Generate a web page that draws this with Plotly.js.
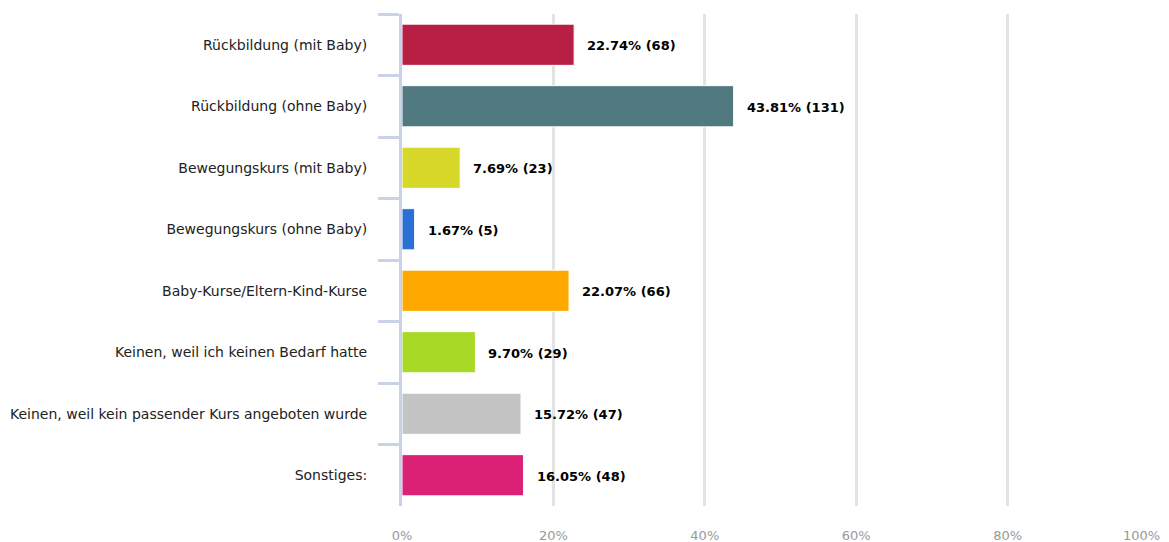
<!DOCTYPE html>
<html>
<head>
<meta charset="utf-8">
<script src="https://cdn.plot.ly/plotly-3.0.1.min.js"></script>
<style>html,body{margin:0;padding:0;background:#fff;}#chart{width:1169px;height:542px;}</style>
</head>
<body>
<div id="chart"></div>
<script>
const categories = [
  "Rückbildung (mit Baby)",
  "Rückbildung (ohne Baby)",
  "Bewegungskurs (mit Baby)",
  "Bewegungskurs (ohne Baby)",
  "Baby-Kurse/Eltern-Kind-Kurse",
  "Keinen, weil ich keinen Bedarf hatte",
  "Keinen, weil kein passender Kurs angeboten wurde",
  "Sonstiges:"
];
const percents = [22.74, 43.81, 7.69, 1.67, 22.07, 9.70, 15.72, 16.05];
const counts = [68, 131, 23, 5, 66, 29, 47, 48];
const colors = ["#b81f44", "#507a80", "#d8d82a", "#2a6fd6", "#ffa800", "#a8d926", "#c4c4c4", "#db2175"];
const xTickVals = [0, 20, 40, 60, 80, 100];
const xTickText = ["0%", "20%", "40%", "60%", "80%", ""];
const lastTickLabel = "100%";

const labels = percents.map((p, i) => p.toFixed(2) + "% (" + counts[i] + ")");

const trace = {
  type: "bar",
  orientation: "h",
  y: categories,
  x: percents,
  marker: { color: colors, line: { color: "#ffffff", width: 1 } },
  width: 0.67,
  hoverinfo: "none"
};

const annotations = categories.map((c, i) => ({
  x: percents[i], y: c, xref: "x", yref: "y",
  text: labels[i], showarrow: false, xanchor: "left", xshift: 11, yshift: -1,
  font: { family: "DejaVu Sans", size: 13, color: "#000", weight: "bold" }
}));
annotations.push({
  x: xTickVals[xTickVals.length - 1], y: 0, xref: "x", yref: "paper",
  text: lastTickLabel, showarrow: false, xanchor: "right", yanchor: "top",
  xshift: 3, yshift: -20,
  font: { family: "DejaVu Sans", size: 13, color: "#999" }
});

const layout = {
  width: 1169, height: 542,
  margin: { l: 402, r: 10, t: 14, b: 36 },
  paper_bgcolor: "#fff", plot_bgcolor: "#fff",
  showlegend: false,
  font: { family: "DejaVu Sans", size: 13, color: "#222" },
  xaxis: {
    range: [0, 100], tickmode: "array", tickvals: xTickVals, ticktext: xTickText,
    showgrid: true, gridcolor: "#e3e3e3", gridwidth: 3,
    zeroline: false, showline: false, ticks: "",
    ticklabelstandoff: 20,
    tickfont: { family: "DejaVu Sans", size: 13, color: "#999" },
    fixedrange: true
  },
  yaxis: {
    type: "category", autorange: "reversed",
    showline: true, linecolor: "#c9d2e8", linewidth: 3,
    ticks: "outside", tickson: "boundaries", ticklen: 21, tickwidth: 3, tickcolor: "#c9d2e8",
    ticklabelstandoff: 29,
    showgrid: false, zeroline: false,
    tickfont: { family: "DejaVu Sans", size: 14, color: "#222" },
    fixedrange: true
  },
  annotations: annotations
};

Plotly.newPlot("chart", [trace], layout, { displayModeBar: false, staticPlot: true });
</script>
</body>
</html>
